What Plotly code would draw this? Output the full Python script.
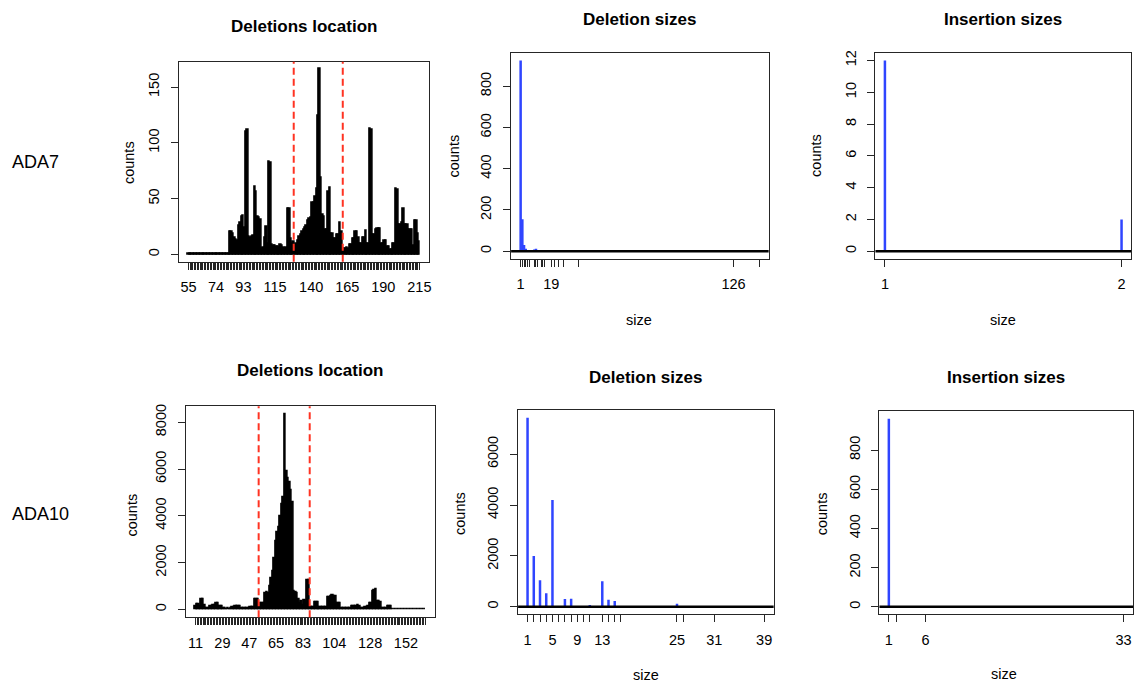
import plotly.graph_objects as go

# ---------------- data ----------------
# ADA7: deletion counts per reference position
ada7_positions = list(range(55, 216))
ada7_location_counts = [
    1, 1, 1, 1, 1, 1, 1, 1, 1, 1,
    1, 1, 1, 1, 1, 1, 1, 1, 1, 1,
    1, 1, 1, 1, 1, 1, 1, 1, 1, 20,
    20, 19, 15, 13, 12, 26, 28, 34, 35, 24,
    110, 112, 16, 15, 16, 17, 61, 56, 34, 33,
    31, 5, 6, 15, 25, 10, 83, 82, 9, 8,
    8, 7, 7, 6, 9, 8, 6, 5, 6, 41,
    41, 14, 10, 11, 8, 10, 12, 16, 18, 20,
    22, 24, 26, 30, 32, 33, 46, 46, 52, 59,
    124, 166, 69, 36, 34, 22, 22, 56, 60, 19,
    19, 14, 14, 18, 18, 28, 20, 5, 5, 5,
    6, 5, 9, 9, 14, 14, 20, 20, 15, 10,
    10, 15, 15, 21, 10, 10, 113, 112, 18, 18,
    22, 23, 23, 23, 10, 10, 12, 12, 7, 7,
    4, 4, 10, 10, 59, 58, 27, 27, 28, 41,
    27, 27, 27, 22, 22, 22, 8, 30, 30, 19,
    11,
]
ada7_location_labels = [55, 74, 93, 115, 140, 165, 190, 215]
ada7_window = [127.9, 161.9]
ada7_location_yticks = [0, 50, 100, 150]

# ADA10: deletion counts per reference position
ada10_positions = list(range(11, 166))
ada10_location_counts = [
    160, 230, 230, 160, 430, 420, 190, 40, 40, 40,
    140, 140, 190, 190, 260, 260, 160, 160, 160, 40,
    40, 30, 40, 30, 40, 100, 100, 140, 130, 140,
    140, 60, 60, 50, 60, 60, 60, 90, 90, 90,
    440, 450, 430, 90, 260, 270, 250, 700, 720, 710,
    1000, 1350, 1650, 2200, 2900, 3300, 3500, 4000, 4500, 4800,
    8350, 5900, 5600, 5450, 5100, 4600, 760, 750, 700, 450,
    260, 370, 200, 400, 360, 1230, 1250, 110, 110, 110,
    300, 300, 300, 100, 100, 90, 100, 90, 100, 540,
    540, 550, 610, 570, 570, 260, 260, 250, 70, 70,
    60, 70, 70, 60, 70, 150, 160, 150, 150, 170,
    150, 70, 60, 70, 110, 110, 120, 260, 250, 800,
    820, 850, 360, 350, 330, 70, 70, 60, 70, 130,
    130, 140, 10, 10, 10, 10, 10, 10, 10, 10,
    10, 10, 10, 10, 10, 10, 10, 10, 10, 10,
    10, 10, 10, 10, 10,
]
ada10_location_labels = [11, 29, 47, 65, 83, 104, 128, 152]
ada10_window = [53.3, 87.5]
ada10_location_yticks = [0, 2000, 4000, 6000, 8000]

# deletion / insertion size distributions
ada7_del_sizes = [1, 2, 3, 4, 5, 6, 9, 10, 11, 13, 14, 15, 19, 21, 23, 26, 35, 126, 141]
ada7_del_counts = [925, 155, 30, 12, 6, 4, 8, 12, 5, 4, 3, 3, 3, 2, 2, 1, 1, 1, 1]
ada7_del_labels = [1, 19, 126]
ada7_del_yticks = [0, 200, 400, 600, 800]

ada7_ins_sizes = [1, 2]
ada7_ins_counts = [12, 2]
ada7_ins_labels = [1, 2]
ada7_ins_yticks = [0, 2, 4, 6, 8, 10, 12]

ada10_del_sizes = [1, 2, 3, 4, 5, 6, 7, 8, 9, 10, 11, 13, 14, 15, 16, 25, 26, 31, 39]
ada10_del_counts = [7430, 2000, 1040, 530, 4200, 15, 300, 310, 10, 10, 70, 1000, 280, 230, 20, 120, 15, 5, 5]
ada10_del_labels = [1, 5, 9, 13, 25, 31, 39]
ada10_del_yticks = [0, 2000, 4000, 6000]

ada10_ins_sizes = [1, 2, 6, 33]
ada10_ins_counts = [960, 4, 2, 2]
ada10_ins_labels = [1, 6, 33]
ada10_ins_yticks = [0, 200, 400, 600, 800]

# ---------------- styling ----------------
W, H = 1138, 684
FONT = "Liberation Sans, Arial, Helvetica, sans-serif"
BOX = "#262626"
BLUE = "#2f45ff"
RED = "#ff3322"
TICK_SIZE = 14.5
LAB_SIZE = 14.5
TITLE_SIZE = 17


def xdom(l, r):
    return [l / W, r / W]


def ydom(t, b):
    return [1 - b / H, 1 - t / H]


def pad_range(lo, hi, f=0.04):
    d = (hi - lo) * f
    return [lo - d, hi + d]


def bar_range(first, n):
    # barplot geometry: unit-width bars with 0.2 spacing, centres at 0.7 + 1.2*i
    lo, hi = 0.2, 1.2 * n
    d = 0.04 * (hi - lo)
    return [first + (lo - d - 0.7) / 1.2, first + (hi + d - 0.7) / 1.2]


fig = go.Figure()
shapes = []
annotations = []
layout_axes = {}


def axis_base():
    return dict(
        showline=True, mirror=True, linecolor=BOX, linewidth=1,
        ticks="outside", ticklen=7, tickwidth=1, tickcolor=BOX,
        showgrid=False, zeroline=False, fixedrange=True,
        tickfont=dict(family=FONT, size=TICK_SIZE, color="black"),
    )


def add_axes(k, box, xr, yr, xvals, xtext, yvals):
    l, t, r, b = box
    sfx = "" if k == 1 else str(k)
    xa = axis_base()
    xa.update(domain=xdom(l, r), anchor="y" + sfx, range=xr,
              tickmode="array", tickvals=xvals, ticktext=xtext,
              ticklabelstandoff=5)
    ya = axis_base()
    ya.update(domain=ydom(t, b), anchor="x" + sfx, range=yr,
              tickmode="array", tickvals=yvals,
              ticktext=[str(v) for v in yvals], tickangle=-90,
              ticklabelstandoff=6)
    layout_axes["xaxis" + sfx] = xa
    layout_axes["yaxis" + sfx] = ya
    return sfx


def location_panel(k, box, positions, counts, labels, window, yticks):
    sfx = add_axes(
        k, box,
        bar_range(positions[0], len(positions)),
        pad_range(0, max(counts)),
        positions,
        [str(p) if p in labels else "" for p in positions],
        yticks,
    )
    fig.add_trace(go.Bar(
        x=positions, y=counts, width=1.0,
        marker=dict(color="black", line=dict(color="black", width=1.5)),
        xaxis="x" + sfx, yaxis="y" + sfx, hoverinfo="skip",
    ))
    for v in window:
        shapes.append(dict(
            type="line", xref="x" + sfx, yref="y" + sfx + " domain",
            x0=v, x1=v, y0=0, y1=1,
            line=dict(color=RED, width=2, dash="7px,4px"),
        ))


def size_panel(k, box, sizes, counts, labels, yticks):
    sfx = add_axes(
        k, box,
        pad_range(min(sizes), max(sizes)),
        pad_range(0, max(counts)),
        sizes,
        [str(s) if s in labels else "" for s in sizes],
        yticks,
    )
    xs, ys = [], []
    for s, c in zip(sizes, counts):
        xs += [s, s, None]
        ys += [0, c, None]
    fig.add_trace(go.Scatter(
        x=xs, y=ys, mode="lines", line=dict(color=BLUE, width=2.5),
        xaxis="x" + sfx, yaxis="y" + sfx, hoverinfo="skip",
    ))
    shapes.append(dict(
        type="line", xref="x" + sfx + " domain", yref="y" + sfx,
        x0=0, x1=1, y0=0, y1=0, line=dict(color="black", width=2.5),
    ))


def text(s, px, py, size, bold=False, angle=0, xanchor="center"):
    annotations.append(dict(
        text="<b>%s</b>" % s if bold else s,
        x=px / W, y=1 - py / H, xref="paper", yref="paper",
        xanchor=xanchor, yanchor="middle", showarrow=False, textangle=angle,
        font=dict(family=FONT, size=size, color="black"),
    ))


# panel boxes in pixels: (left, top, right, bottom)
location_panel(1, (179, 59, 430, 260), ada7_positions, ada7_location_counts,
               ada7_location_labels, ada7_window, ada7_location_yticks)
size_panel(2, (512, 50, 770, 257), ada7_del_sizes, ada7_del_counts,
           ada7_del_labels, ada7_del_yticks)
size_panel(3, (877, 50, 1133, 257), ada7_ins_sizes, ada7_ins_counts,
           ada7_ins_labels, ada7_ins_yticks)
location_panel(4, (186, 405, 436, 617), ada10_positions, ada10_location_counts,
               ada10_location_labels, ada10_window, ada10_location_yticks)
size_panel(5, (519, 409, 775, 614), ada10_del_sizes, ada10_del_counts,
           ada10_del_labels, ada10_del_yticks)
size_panel(6, (881, 410, 1135, 614), ada10_ins_sizes, ada10_ins_counts,
           ada10_ins_labels, ada10_ins_yticks)

# panel titles
text("Deletions location", 304.5, 24, TITLE_SIZE, bold=True)
text("Deletion sizes", 641, 17, TITLE_SIZE, bold=True)
text("Insertion sizes", 1005, 17, TITLE_SIZE, bold=True)
text("Deletions location", 311, 369, TITLE_SIZE, bold=True)
text("Deletion sizes", 647, 376, TITLE_SIZE, bold=True)
text("Insertion sizes", 1008, 376, TITLE_SIZE, bold=True)

# axis titles
for cx, cy in [(130, 160), (455, 154), (818, 153), (132, 514), (461, 513), (823, 513)]:
    text("counts", cx, cy, LAB_SIZE, angle=-90)
for cx, cy in [(640, 318), (1005, 318), (647, 675), (1006, 674)]:
    text("size", cx, cy, LAB_SIZE)

# sample names
text("ADA7", 10, 160, 18, xanchor="left")
text("ADA10", 10, 513, 18, xanchor="left")

fig.update_layout(
    width=W, height=H,
    margin=dict(l=0, r=0, t=0, b=0),
    paper_bgcolor="white", plot_bgcolor="white",
    showlegend=False, bargap=0,
    shapes=shapes, annotations=annotations,
    **layout_axes,
)

fig.write_html("out.html", config={"displayModeBar": False})
